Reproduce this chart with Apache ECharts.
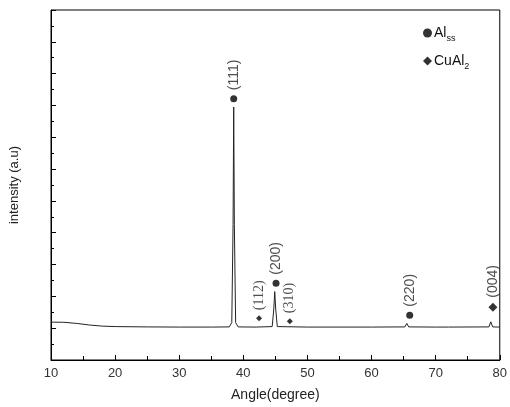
<!DOCTYPE html>
<html>
<head>
<meta charset="utf-8">
<script src="https://cdn.jsdelivr.net/npm/echarts@6/dist/echarts.min.js"></script>
<style>
  html, body { margin: 0; padding: 0; background: #fff; }
  #chart { width: 510px; height: 407px; }
</style>
</head>
<body>
<div id="chart"></div>
<script>
// XRD pattern
const angles = [10, 12, 14, 16, 18, 20, 25, 30, 35, 37.8, 38.2, 38.4, 38.5, 38.6, 38.8, 39.2,
  42, 44.5, 44.75, 44.9, 45.05, 45.3, 50, 60, 65.2, 65.5, 65.8, 70, 71.6, 71.8, 72, 78.3, 78.6, 78.9, 80];
const intensity = [2.38, 2.37, 2.3, 2.2, 2.13, 2.1, 2.08, 2.07, 2.07, 2.08, 2.35, 8.5, 15.9, 8.5, 2.35, 2.08,
  2.07, 2.1, 3.2, 4.3, 3.2, 2.1, 2.07, 2.07, 2.08, 2.3, 2.08, 2.07, 2.07, 2.13, 2.07, 2.08, 2.4, 2.08, 2.07];

// phase markers and hkl labels
const alAngles = [38.5, 45.1, 65.95];
const alLevels = [16.42, 4.83, 2.82];
const alLabels = ['(111)', '(200)', '(220)'];
const cuAngles = [42.45, 47.25, 78.93];
const cuLevels = [2.63, 2.44, 3.32];
const cuLabels = ['(112)', '(310)', '(004)'];
const cuSerif = [true, true, false];
const cuSizes = [6, 6, 9];

const font = 'Liberation Sans, Arial, sans-serif';
const serifFont = 'Liberation Serif, Times New Roman, serif';
const chart = echarts.init(document.getElementById('chart'));

function hklLabel(serif) {
  return {
    show: true,
    formatter: p => p.name,
    position: 'top',
    rotate: 90,
    align: 'left',
    verticalAlign: 'middle',
    distance: 5,
    color: '#222',
    fontSize: 14,
    fontFamily: serif ? serifFont : font
  };
}

const alData = alAngles.map((x, i) => ({ value: [x, alLevels[i]], name: alLabels[i] }));
const cuData = cuAngles.map((x, i) => ({
  value: [x, cuLevels[i]],
  name: cuLabels[i],
  symbolSize: cuSizes[i],
  label: hklLabel(cuSerif[i])
}));

chart.setOption({
  animation: false,
  grid: { left: 49, right: 7, top: 10, bottom: 46, show: true, borderColor: '#000', borderWidth: 1 },
  legend: {
    orient: 'vertical',
    left: 418,
    top: 21,
    itemGap: 11,
    itemWidth: 9,
    itemHeight: 9,
    data: [
      { name: 'Al_ss', icon: 'circle' },
      { name: 'CuAl_2', icon: 'diamond' }
    ],
    formatter: name => name === 'Al_ss' ? '{m|Al}{s|ss}' : '{m|CuAl}{s|2}',
    textStyle: {
      padding: [0, 0, 0, -3],
      rich: {
        m: { fontSize: 14, fontFamily: font, color: '#111' },
        s: { fontSize: 9, fontFamily: font, color: '#111', padding: [11, 0, 0, 0] }
      }
    }
  },
  xAxis: {
    type: 'value',
    min: 10,
    max: 80,
    interval: 10,
    name: 'Angle(degree)',
    nameLocation: 'middle',
    nameGap: 28,
    nameTextStyle: { fontSize: 14, fontFamily: font, color: '#222' },
    axisLine: { lineStyle: { color: '#000', width: 1 } },
    axisTick: { inside: true, length: 5, lineStyle: { color: '#000' } },
    minorTick: { show: true, splitNumber: 2, length: 4, lineStyle: { color: '#000' } },
    axisLabel: { fontSize: 13, fontFamily: font, color: '#333', margin: 7 },
    splitLine: { show: false }
  },
  yAxis: {
    type: 'value',
    min: 0,
    max: 22,
    interval: 2,
    name: 'intensity (a.u)',
    nameLocation: 'middle',
    nameGap: 30,
    nameTextStyle: { fontSize: 13, fontFamily: font, color: '#222' },
    axisLine: { show: true, lineStyle: { color: '#000', width: 1 } },
    axisTick: { inside: true, length: 5, lineStyle: { color: '#000' } },
    minorTick: { show: true, splitNumber: 2, length: 3, lineStyle: { color: '#000' } },
    axisLabel: { show: false },
    splitLine: { show: false }
  },
  series: [
    {
      name: 'pattern',
      type: 'line',
      data: angles.map((a, i) => [a, intensity[i]]),
      showSymbol: false,
      lineStyle: { color: '#222', width: 1 }
    },
    {
      name: 'Al_ss',
      type: 'scatter',
      symbol: 'circle',
      symbolSize: 7,
      itemStyle: { color: '#000' },
      data: alData,
      label: hklLabel(false)
    },
    {
      name: 'CuAl_2',
      type: 'scatter',
      symbol: 'diamond',
      symbolSize: 7,
      itemStyle: { color: '#000' },
      data: cuData,
      label: hklLabel(true)
    }
  ]
});
</script>
</body>
</html>
